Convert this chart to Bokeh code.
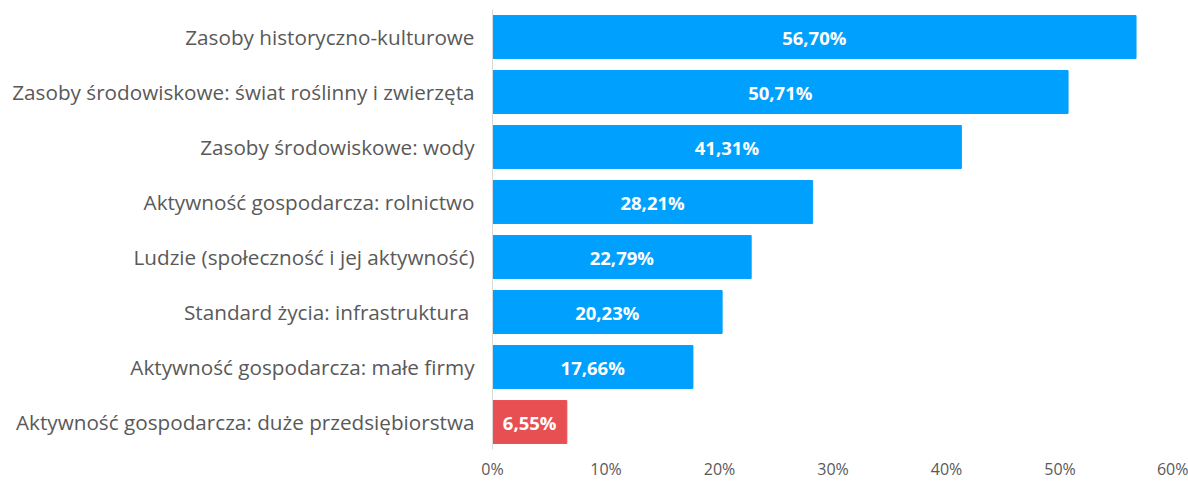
from bokeh.plotting import figure
from bokeh.models import Range1d, FixedTicker, ColumnDataSource, LabelSet
from bokeh.core.properties import value
from bokeh.embed import file_html
from bokeh.resources import INLINE

categories = [
    "Zasoby historyczno-kulturowe",
    "Zasoby środowiskowe: świat roślinny i zwierzęta",
    "Zasoby środowiskowe: wody",
    "Aktywność gospodarcza: rolnictwo",
    "Ludzie (społeczność i jej aktywność)",
    "Standard życia: infrastruktura ",
    "Aktywność gospodarcza: małe firmy",
    "Aktywność gospodarcza: duże przedsiębiorstwa",
]
values = [56.70, 50.71, 41.31, 28.21, 22.79, 20.23, 17.66, 6.55]
bar_colors = ["#00A0FF"] * 7 + ["#E84F52"]
tick_values = [0, 10, 20, 30, 40, 50, 60]
tick_labels = ["0%", "10%", "20%", "30%", "40%", "50%", "60%"]

labels = [("%.2f%%" % v).replace(".", ",") for v in values]
src = ColumnDataSource(dict(cat=categories, val=values, mid=[v / 2 for v in values],
                            color=bar_colors, label=labels))

p = figure(width=1188, height=482, output_backend="svg", toolbar_location=None,
           y_range=list(reversed(categories)), x_range=Range1d(0, 60),
           min_border_left=492, min_border_right=15, min_border_top=9, min_border_bottom=31)
p.hbar(y="cat", right="val", left=0, height=0.78, color="color", source=src)

p.add_layout(LabelSet(x="mid", y="cat", text="label", source=src, text_color="white",
                      text_font=value("Open Sans"), text_font_style="bold", text_font_size="18.5px",
                      text_align="center", text_baseline="middle"))

p.outline_line_color = None
p.grid.grid_line_color = None
p.background_fill_color = "white"
p.border_fill_color = "white"

xa = p.xaxis[0]
xa.ticker = FixedTicker(ticks=tick_values)
xa.major_label_overrides = {t: l for t, l in zip(tick_values, tick_labels)}
xa.axis_line_color = None
xa.major_tick_line_color = None
xa.minor_tick_line_color = None
xa.major_tick_out = 0
xa.major_tick_in = 0
xa.major_label_text_color = "#595959"
xa.major_label_text_font = "Open Sans"
xa.major_label_text_font_size = "16px"
xa.major_label_standoff = 8

ya = p.yaxis[0]
ya.axis_line_color = "#D9D9D9"
ya.major_tick_line_color = None
ya.minor_tick_line_color = None
ya.major_tick_out = 0
ya.major_tick_in = 0
ya.major_label_text_color = "#595959"
ya.major_label_text_font = "Open Sans"
ya.major_label_text_font_size = "20.7px"
ya.major_label_standoff = 18

open("out.html", "w").write(file_html(p, INLINE))
